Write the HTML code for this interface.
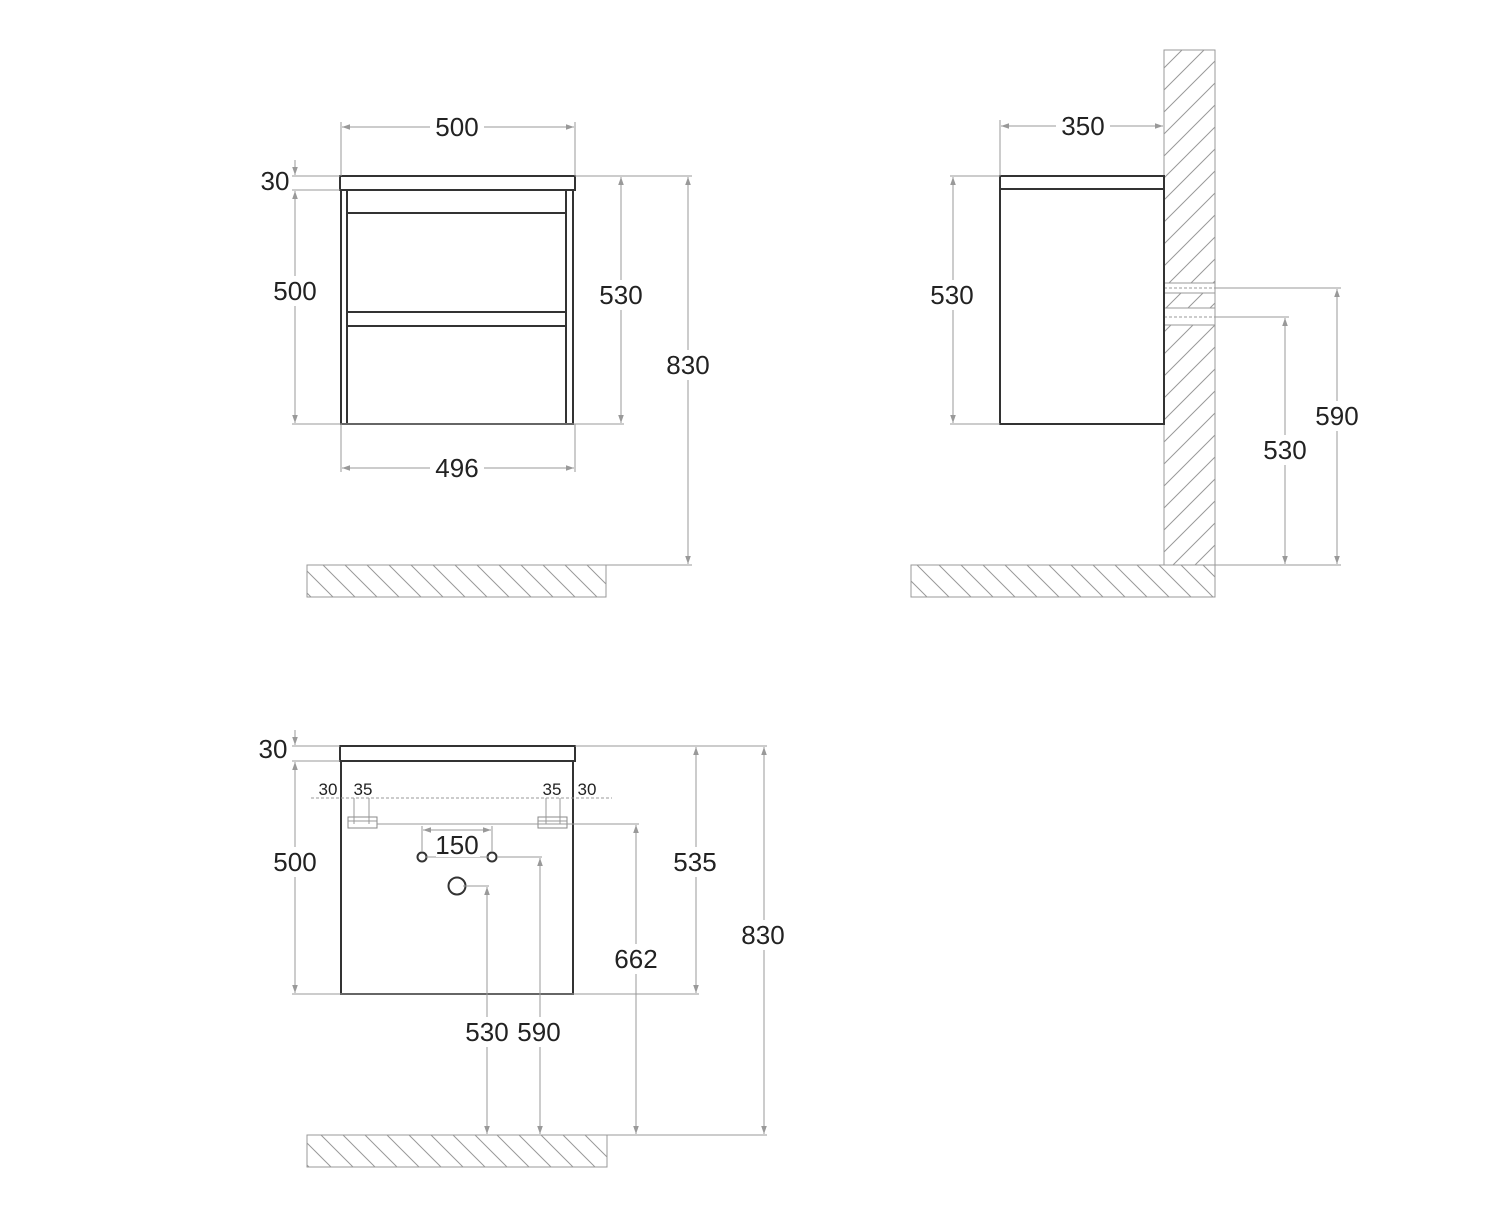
<!DOCTYPE html>
<html><head><meta charset="utf-8"><style>
html,body{margin:0;padding:0;background:#fff;}
svg{display:block;}
text{font-family:"Liberation Sans",sans-serif;font-size:26px;fill:#222;text-anchor:middle;}
.s{font-size:17px;}
.d{stroke:#999;stroke-width:1;fill:none;}
.k{stroke:#333;stroke-width:2;fill:none;}
.g{stroke:#999;stroke-width:1;}
</style></head><body>
<svg width="1500" height="1219" viewBox="0 0 1500 1219" xmlns="http://www.w3.org/2000/svg">
<defs>
<marker id="a" viewBox="0 0 10 10" refX="10" refY="5" markerWidth="8" markerHeight="8" orient="auto-start-reverse" markerUnits="userSpaceOnUse"><path d="M0,1.5 L10,5 L0,8.5z" fill="#999"/></marker>
<pattern id="hf" patternUnits="userSpaceOnUse" width="22" height="22"><path d="M-5,-5 L27,27 M-27,-5 L5,27 M17,-5 L49,27" stroke="#999" stroke-width="1"/></pattern>
<pattern id="hw" patternUnits="userSpaceOnUse" width="22" height="22"><path d="M-5,27 L27,-5 M-27,27 L5,-5 M17,27 L49,-5" stroke="#999" stroke-width="1"/></pattern>
</defs>
<rect width="1500" height="1219" fill="#fff"/>

<!-- ===== FRONT VIEW ===== -->
<rect x="307" y="565" width="299" height="32" fill="url(#hf)" stroke="#999"/>
<rect x="340" y="176" width="235" height="14" class="k"/>
<rect x="341" y="190" width="232" height="234" class="k"/>
<line x1="347" y1="190" x2="347" y2="424" class="k"/>
<line x1="566" y1="190" x2="566" y2="424" class="k"/>
<line x1="347" y1="213" x2="566" y2="213" class="k"/>
<line x1="347" y1="312" x2="566" y2="312" class="k"/>
<line x1="347" y1="326" x2="566" y2="326" class="k"/>
<!-- ext lines -->
<line x1="341" y1="122" x2="341" y2="176" class="d"/>
<line x1="575" y1="122" x2="575" y2="176" class="d"/>
<line x1="292" y1="176" x2="340" y2="176" class="d"/>
<line x1="292" y1="190" x2="340" y2="190" class="d"/>
<line x1="575" y1="176" x2="692" y2="176" class="d"/>
<line x1="292" y1="424" x2="624" y2="424" class="d"/>
<line x1="341" y1="424" x2="341" y2="472" class="d"/>
<line x1="575" y1="424" x2="575" y2="472" class="d"/>
<line x1="606" y1="565" x2="692" y2="565" class="d"/>
<!-- dims -->
<line x1="342" y1="127" x2="574" y2="127" class="d" marker-start="url(#a)" marker-end="url(#a)"/>
<line x1="342" y1="468" x2="574" y2="468" class="d" marker-start="url(#a)" marker-end="url(#a)"/>
<line x1="295" y1="160" x2="295" y2="175" class="d" marker-end="url(#a)"/>
<line x1="295" y1="191" x2="295" y2="423" class="d" marker-start="url(#a)" marker-end="url(#a)"/>
<line x1="621" y1="177" x2="621" y2="423" class="d" marker-start="url(#a)" marker-end="url(#a)"/>
<line x1="688" y1="177" x2="688" y2="564" class="d" marker-start="url(#a)" marker-end="url(#a)"/>
<rect x="430" y="112" width="54" height="30" fill="#fff"/><text x="457" y="136">500</text>
<rect x="430" y="453" width="54" height="30" fill="#fff"/><text x="457" y="477">496</text>
<rect x="258" y="168" width="32" height="26" fill="#fff"/><text x="275" y="190">30</text>
<rect x="270" y="276" width="52" height="30" fill="#fff"/><text x="295" y="300">500</text>
<rect x="596" y="280" width="50" height="30" fill="#fff"/><text x="621" y="304">530</text>
<rect x="663" y="350" width="50" height="30" fill="#fff"/><text x="688" y="374">830</text>

<!-- ===== SIDE VIEW ===== -->
<path d="M1164,50 H1215 V283 H1164z M1164,293 H1215 V308 H1164z M1164,325 H1215 V565 H1164z" fill="url(#hw)" stroke="#999"/>
<line x1="1164" y1="283" x2="1215" y2="283" class="g"/><line x1="1164" y1="293" x2="1215" y2="293" class="g"/>
<line x1="1164" y1="308" x2="1215" y2="308" class="g"/><line x1="1164" y1="325" x2="1215" y2="325" class="g"/>
<line x1="1215" y1="283" x2="1215" y2="325" class="g"/>
<line x1="1164" y1="288" x2="1215" y2="288" class="d" stroke-dasharray="3,2"/>
<line x1="1164" y1="317" x2="1215" y2="317" class="d" stroke-dasharray="3,2"/>
<rect x="911" y="565" width="304" height="32" fill="url(#hf)" stroke="#999"/>
<rect x="1000" y="176" width="164" height="13" class="k"/>
<rect x="1000" y="189" width="164" height="235" class="k"/>
<line x1="1000" y1="120" x2="1000" y2="176" class="d"/>
<line x1="950" y1="176" x2="1000" y2="176" class="d"/>
<line x1="950" y1="424" x2="1000" y2="424" class="d"/>
<line x1="1001" y1="126" x2="1163" y2="126" class="d" marker-start="url(#a)" marker-end="url(#a)"/>
<line x1="953" y1="177" x2="953" y2="423" class="d" marker-start="url(#a)" marker-end="url(#a)"/>
<line x1="1215" y1="288" x2="1341" y2="288" class="d"/>
<line x1="1215" y1="317" x2="1289" y2="317" class="d"/>
<line x1="1215" y1="565" x2="1341" y2="565" class="d"/>
<line x1="1337" y1="289" x2="1337" y2="564" class="d" marker-start="url(#a)" marker-end="url(#a)"/>
<line x1="1285" y1="318" x2="1285" y2="564" class="d" marker-start="url(#a)" marker-end="url(#a)"/>
<rect x="1056" y="111" width="54" height="30" fill="#fff"/><text x="1083" y="135">350</text>
<rect x="927" y="280" width="52" height="30" fill="#fff"/><text x="952" y="304">530</text>
<rect x="1311" y="401" width="52" height="30" fill="#fff"/><text x="1337" y="425">590</text>
<rect x="1259" y="435" width="52" height="30" fill="#fff"/><text x="1285" y="459">530</text>

<!-- ===== BACK VIEW ===== -->
<rect x="307" y="1135" width="300" height="32" fill="url(#hf)" stroke="#999"/>
<rect x="340" y="746" width="235" height="15" class="k"/>
<rect x="341" y="761" width="232" height="233" class="k"/>
<!-- brackets -->
<rect x="348" y="817" width="29" height="11" fill="#fff" stroke="#888"/>
<rect x="538" y="817" width="29" height="11" fill="#fff" stroke="#888"/>
<line x1="348" y1="821" x2="377" y2="821" class="g"/><line x1="538" y1="821" x2="567" y2="821" class="g"/>
<line x1="377" y1="824" x2="639" y2="824" class="d"/>
<line x1="567" y1="824" x2="639" y2="824" class="d"/>
<line x1="311" y1="798" x2="612" y2="798" class="d" stroke-dasharray="3,2"/>
<line x1="354" y1="798" x2="354" y2="824" class="d"/><line x1="369" y1="798" x2="369" y2="824" class="d"/>
<line x1="546" y1="798" x2="546" y2="824" class="d"/><line x1="560" y1="798" x2="560" y2="824" class="d"/>
<text class="s" x="328" y="795">30</text><text class="s" x="363" y="795">35</text>
<text class="s" x="552" y="795">35</text><text class="s" x="587" y="795">30</text>
<!-- holes -->
<circle cx="422" cy="857" r="4.5" class="k" stroke-width="1.6"/>
<circle cx="492" cy="857" r="4.5" class="k" stroke-width="1.6"/>
<circle cx="457" cy="886" r="8.5" class="k" stroke-width="1.6"/>
<line x1="422" y1="826" x2="422" y2="852" class="d"/><line x1="492" y1="826" x2="492" y2="852" class="d"/>
<line x1="423" y1="830" x2="491" y2="830" class="d" marker-start="url(#a)" marker-end="url(#a)"/>
<line x1="426" y1="857" x2="488" y2="857" class="d"/>
<line x1="497" y1="857" x2="542" y2="857" class="d"/>
<line x1="463" y1="886" x2="489" y2="886" class="d"/>
<!-- ext -->
<line x1="292" y1="746" x2="340" y2="746" class="d"/>
<line x1="292" y1="761" x2="340" y2="761" class="d"/>
<line x1="575" y1="746" x2="767" y2="746" class="d"/>
<line x1="292" y1="994" x2="699" y2="994" class="d"/>
<line x1="607" y1="1135" x2="767" y2="1135" class="d"/>
<!-- dims -->
<line x1="295" y1="730" x2="295" y2="745" class="d" marker-end="url(#a)"/>
<line x1="295" y1="762" x2="295" y2="993" class="d" marker-start="url(#a)" marker-end="url(#a)"/>
<line x1="487" y1="887" x2="487" y2="1134" class="d" marker-start="url(#a)" marker-end="url(#a)"/>
<line x1="540" y1="858" x2="540" y2="1134" class="d" marker-start="url(#a)" marker-end="url(#a)"/>
<line x1="636" y1="825" x2="636" y2="1134" class="d" marker-start="url(#a)" marker-end="url(#a)"/>
<line x1="696" y1="747" x2="696" y2="993" class="d" marker-start="url(#a)" marker-end="url(#a)"/>
<line x1="764" y1="747" x2="764" y2="1134" class="d" marker-start="url(#a)" marker-end="url(#a)"/>
<rect x="436" y="831" width="44" height="26" fill="#fff"/><text x="457" y="854">150</text>
<rect x="258" y="737" width="32" height="26" fill="#fff"/><text x="273" y="758">30</text>
<rect x="270" y="847" width="52" height="30" fill="#fff"/><text x="295" y="871">500</text>
<rect x="462" y="1017" width="102" height="30" fill="#fff"/><text x="487" y="1041">530</text><text x="539" y="1041">590</text>
<rect x="610" y="944" width="52" height="30" fill="#fff"/><text x="636" y="968">662</text>
<rect x="670" y="847" width="52" height="30" fill="#fff"/><text x="695" y="871">535</text>
<rect x="738" y="920" width="52" height="30" fill="#fff"/><text x="763" y="944">830</text>
</svg>
</body></html>
